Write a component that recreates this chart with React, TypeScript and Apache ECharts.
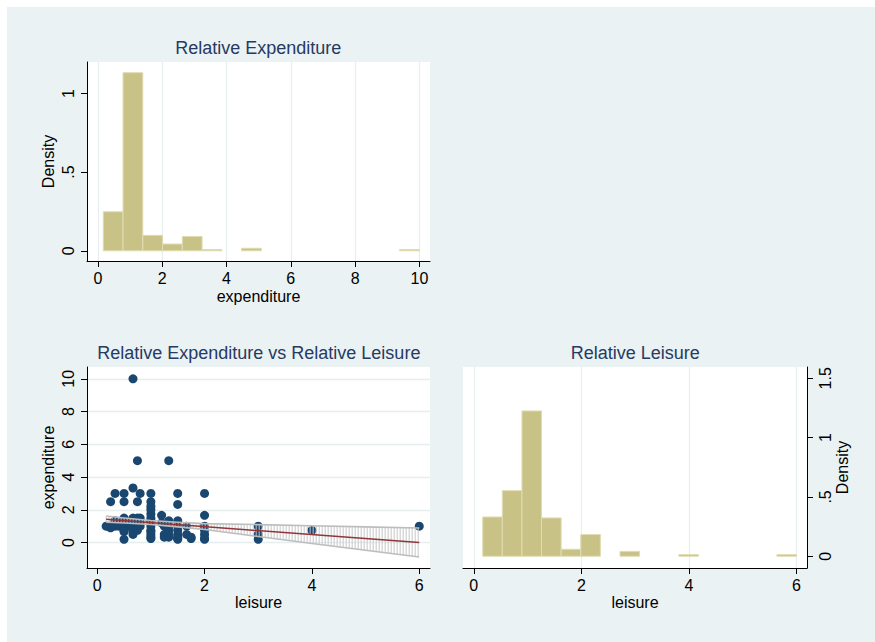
import React, { useEffect, useRef } from 'react';
import * as echarts from 'echarts';

// ---------- data ----------
const expBinEdges = [0.167, 0.781, 1.396, 2.01, 2.625, 3.24, 3.854, 4.469, 5.083, 5.698, 6.313, 6.927, 7.542, 8.156, 8.771, 9.385, 10];
const expDensity = [0.248, 1.132, 0.098, 0.043, 0.091, 0.008, 0, 0.016, 0, 0, 0, 0, 0, 0, 0, 0.008];

const leiBinEdges = [0.167, 0.531, 0.896, 1.26, 1.625, 1.99, 2.354, 2.719, 3.083, 3.448, 3.813, 4.177, 4.542, 4.906, 5.271, 5.635, 6.0];
const leiDensity = [0.331, 0.553, 1.225, 0.323, 0.059, 0.183, 0, 0.041, 0, 0, 0.014, 0, 0, 0, 0, 0.014];

const leisure = [
  0.667, 0.75, 1.333, 0.667, 0.333, 0.5, 0.8, 1, 1.5, 2,
  0.25, 0.5, 0.75, 1, 1.5, 1, 1, 1, 2, 1.2,
  1, 0.5, 0.667, 0.75, 0.8, 1, 1, 1, 1, 1,
  1, 1, 0.167, 0.2, 0.25, 0.333, 0.4, 0.5, 0.6, 0.667,
  0.75, 0.8, 0.5, 0.5, 0.5, 0.5, 0.6, 0.667, 0.667, 0.667,
  0.75, 0.75, 0.8, 0.333, 1.25, 1.25, 1.25, 1.333, 1.333, 1.333,
  1.333, 1.333, 1.5, 1.5, 1.5, 1.5, 1.5, 1.5, 1.667, 1.667,
  1.75, 1.75, 2, 2, 2, 2, 3, 3, 3, 4,
  6, 1.2, 1, 1.5, 2, 0.333, 0.4, 0.25
];
const expenditure = [
  10, 5, 5, 3.333, 3, 3, 3, 3, 3, 3,
  2.5, 2.5, 2.5, 2.5, 2.333, 2.2, 2, 1.75, 1.667, 1.667,
  1.5, 1.5, 1.5, 1.5, 1.5, 1.333, 1.25, 1, 0.75, 0.667,
  0.5, 0.333, 1, 1, 1, 1, 1, 1, 1, 1,
  1, 1, 1.2, 0.75, 0.667, 0.2, 1.2, 1.333, 0.667, 0.5,
  1.25, 0.75, 1.2, 1.333, 1, 0.5, 0.333, 1.333, 1, 0.75,
  0.5, 0.333, 1.333, 1, 0.75, 0.5, 0.333, 0.25, 1, 0.5,
  0.25, 0.333, 1, 0.75, 0.5, 0.2, 1, 0.5, 0.2, 0.75,
  1, 1.2, 0.25, 0.2, 0.25, 1.2, 1.2, 0.9
];

const fitX = [0.167, 6];
const fitY = [1.43, 0.0];
const ciX = [0.167, 0.5, 1, 1.5, 2, 3, 4, 5, 6];
const ciUpper = [1.62, 1.5, 1.345, 1.24, 1.16, 1.1, 1.03, 0.96, 0.89];
const ciLower = [1.24, 1.2, 1.105, 0.96, 0.8, 0.37, -0.05, -0.47, -0.88];

const expTicks = [0, 2, 4, 6, 8, 10];
const expDensTicks = [0, 0.5, 1];
const leiTicks = [0, 2, 4, 6];
const scatYTicks = [0, 2, 4, 6, 8, 10];
const leiDensTicks = [0, 0.5, 1, 1.5];

const titles = ['Relative Expenditure', 'Relative Expenditure vs Relative Leisure', 'Relative Leisure'];

// ---------- styles ----------
const FONT = '"Liberation Sans", Arial, sans-serif';
const BG = '#eaf2f3';
const GRIDLINE = '#e6eef0';
const NAVY = '#1a476f';
const MAROON = '#90353b';
const BAR_FILL = '#c9c287';
const BAR_EDGE = '#e0dcb2';
const TITLE_COLOR = '#263a63';

const fmt = (v: number) => String(v).replace(/^0\./, '.');

function histSeries(edges: number[], dens: number[], idx: number) {
  const data = dens
    .map((d, i) => [edges[i], edges[i + 1], d])
    .filter((r) => r[2] > 0);
  return {
    type: 'custom',
    xAxisIndex: idx,
    yAxisIndex: idx,
    data,
    encode: { x: [0, 1], y: 2 },
    renderItem: (params: any, api: any) => {
      const p0 = api.coord([api.value(0), api.value(2)]);
      const p1 = api.coord([api.value(1), 0]);
      return {
        type: 'rect',
        shape: { x: p0[0], y: p0[1], width: p1[0] - p0[0], height: p1[1] - p0[1] },
        style: { fill: BAR_FILL, stroke: BAR_EDGE, lineWidth: 1 },
      };
    },
  };
}

function axisCommon(ticks: number[]) {
  return {
    type: 'value',
    axisLine: { show: true, onZero: false, lineStyle: { color: '#000', width: 1 } },
    axisTick: { show: true, customValues: ticks, length: 6, lineStyle: { color: '#000', width: 1 } },
    axisLabel: {
      customValues: ticks,
      fontSize: 16,
      fontFamily: FONT,
      color: '#000',
      formatter: fmt,
    },
    nameLocation: 'middle',
    nameTextStyle: { fontSize: 16, fontFamily: FONT, color: '#000' },
  };
}

export default function App() {
  const ref = useRef<HTMLDivElement>(null);

  useEffect(() => {
    if (!ref.current) return;
    const chart = echarts.init(ref.current, undefined, { renderer: 'svg' });

    const interp = (pts: number[][], px: number) => {
      for (let k = 0; k < pts.length - 1; k++) {
        const a = pts[k], b = pts[k + 1];
        if (px >= a[0] - 0.001 && px <= b[0] + 0.001) {
          const t = (px - a[0]) / (b[0] - a[0] || 1);
          return a[1] + t * (b[1] - a[1]);
        }
      }
      return pts[pts.length - 1][1];
    };

    const option: any = {
      animation: false,
      backgroundColor: '#ffffff',
      graphic: [
        { type: 'rect', z: -100, silent: true, shape: { x: 7, y: 7, width: 868, height: 635 }, style: { fill: BG } },
        { type: 'text', x: 258.3, y: 48.3, style: { text: titles[0], font: `18px ${FONT}`, fill: TITLE_COLOR, align: 'center', verticalAlign: 'middle' } },
        { type: 'text', x: 258.8, y: 353.3, style: { text: titles[1], font: `18px ${FONT}`, fill: TITLE_COLOR, align: 'center', verticalAlign: 'middle' } },
        { type: 'text', x: 635.3, y: 352.7, style: { text: titles[2], font: `18px ${FONT}`, fill: TITLE_COLOR, align: 'center', verticalAlign: 'middle' } },
      ],
      grid: [
        { left: 87, top: 62, width: 343, height: 199, show: true, backgroundColor: '#fff', borderWidth: 0 },
        { left: 87, top: 367, width: 343, height: 201, show: true, backgroundColor: '#fff', borderWidth: 0 },
        { left: 463, top: 367, width: 344, height: 201, show: true, backgroundColor: '#fff', borderWidth: 0 },
      ],
      xAxis: [
        {
          ...axisCommon(expTicks), gridIndex: 0, min: -0.34, max: 10.33,
          axisLabel: { ...axisCommon(expTicks).axisLabel, margin: 9 },
          splitLine: { show: true, lineStyle: { color: GRIDLINE, width: 1.3 } },
          name: 'expenditure', nameGap: 27,
        },
        {
          ...axisCommon(leiTicks), gridIndex: 1, min: -0.19, max: 6.2,
          axisLabel: { ...axisCommon(leiTicks).axisLabel, margin: 9 },
          splitLine: { show: false },
          name: 'leisure', nameGap: 26,
        },
        {
          ...axisCommon(leiTicks), gridIndex: 2, min: -0.2, max: 6.195,
          axisLabel: { ...axisCommon(leiTicks).axisLabel, margin: 9 },
          splitLine: { show: true, lineStyle: { color: GRIDLINE, width: 1.3 } },
          name: 'leisure', nameGap: 26,
        },
      ],
      yAxis: [
        {
          ...axisCommon(expDensTicks), gridIndex: 0, min: -0.065, max: 1.2,
          axisLabel: { ...axisCommon(expDensTicks).axisLabel, rotate: 90, margin: 11 },
          splitLine: { show: false },
          name: 'Density', nameGap: 31,
        },
        {
          ...axisCommon(scatYTicks), gridIndex: 1, min: -1.55, max: 10.72,
          axisLabel: { ...axisCommon(scatYTicks).axisLabel, rotate: 90, margin: 11 },
          splitLine: { show: true, lineStyle: { color: GRIDLINE, width: 1.3 } },
          name: 'expenditure', nameGap: 31,
        },
        {
          ...axisCommon(leiDensTicks), gridIndex: 2, position: 'right', min: -0.099, max: 1.595,
          axisLabel: { ...axisCommon(leiDensTicks).axisLabel, rotate: 90, margin: 10 },
          splitLine: { show: false },
          name: 'Density', nameGap: 27,
        },
      ],
      series: [
        histSeries(expBinEdges, expDensity, 0),
        {
          type: 'scatter',
          xAxisIndex: 1,
          yAxisIndex: 1,
          symbol: 'circle',
          symbolSize: 9,
          itemStyle: { color: NAVY, opacity: 1 },
          data: leisure.map((x, i) => [x, expenditure[i]]),
          z: 2,
        },
        {
          type: 'custom',
          xAxisIndex: 1,
          yAxisIndex: 1,
          data: [[ciX[0], ciUpper[0]]],
          z: 3,
          renderItem: (params: any, api: any) => {
            const up = ciX.map((x, i) => api.coord([x, ciUpper[i]]));
            const lo = ciX.map((x, i) => api.coord([x, ciLower[i]]));
            const children: any[] = [];
            const x0 = up[0][0];
            const x1 = up[up.length - 1][0];
            for (let px = x0; px <= x1 + 0.01; px += 3) {
              children.push({
                type: 'line',
                shape: { x1: px, y1: interp(up, px), x2: px, y2: interp(lo, px) },
                style: { stroke: '#c6c6c6', lineWidth: 1 },
              });
            }
            children.push({ type: 'polyline', shape: { points: up }, style: { stroke: '#bdbdbd', lineWidth: 1.6, fill: 'none' } });
            children.push({ type: 'polyline', shape: { points: lo }, style: { stroke: '#bdbdbd', lineWidth: 1.6, fill: 'none' } });
            return { type: 'group', children };
          },
        },
        {
          type: 'line',
          xAxisIndex: 1,
          yAxisIndex: 1,
          symbol: 'none',
          data: fitX.map((x, i) => [x, fitY[i]]),
          lineStyle: { color: MAROON, width: 1.5 },
          z: 4,
        },
        histSeries(leiBinEdges, leiDensity, 2),
      ],
    };

    chart.setOption(option);
    return () => chart.dispose();
  }, []);

  return (
    <div
      ref={ref}
      style={{ position: 'fixed', left: 0, top: 0, width: 875, height: 642, background: '#fff' }}
    />
  );
}
